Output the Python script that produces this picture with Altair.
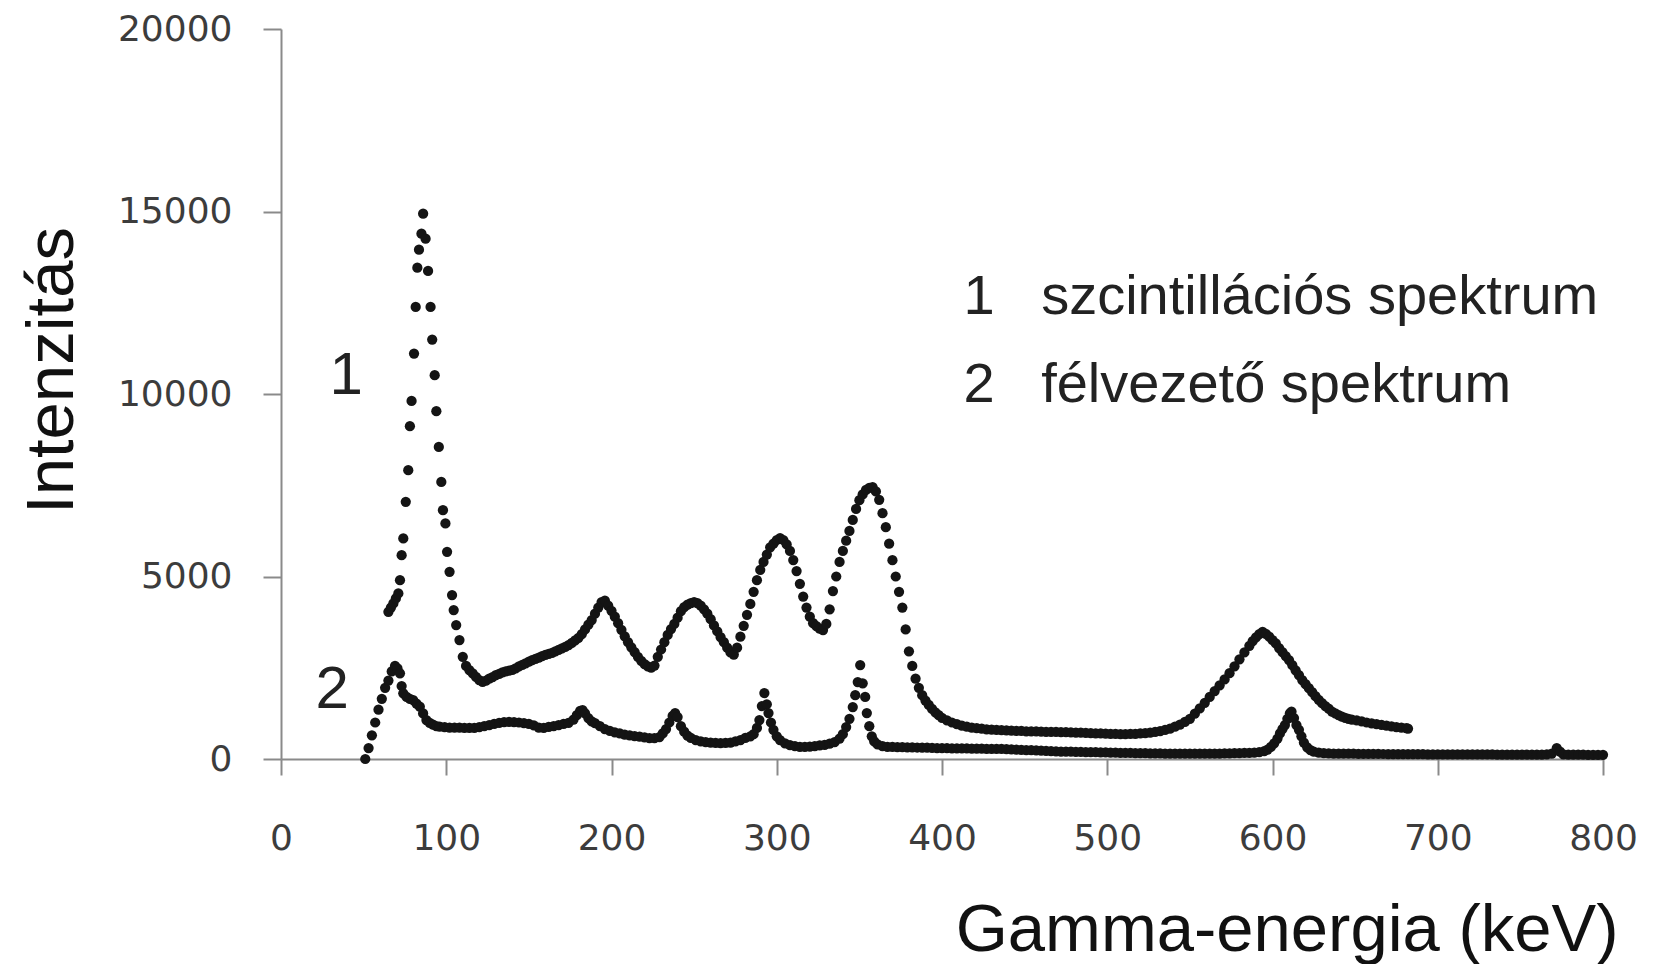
import altair as alt
import pandas as pd

# ---- data (energy keV, intensity) ----
SCINT = [
    (65, 4033), (66.5, 4150), (68, 4263), (69.5, 4400), (71, 4537), (72, 4900), (73, 5585),
    (74, 6042), (75.5, 7045), (77, 7912), (78, 9117), (79, 9810), (80.5, 11108), (81.5, 12384),
    (82.5, 13462), (83.5, 13955), (85, 14393), (86, 14940), (87.5, 14256), (89, 13370),
    (90.5, 12384), (91.5, 11491), (93, 10514), (94, 9528), (95.5, 8550), (97, 7592), (98, 6817),
    (99.5, 6453), (100.5, 5676), (102, 5128), (103.5, 4490), (104.5, 4080), (106, 3669),
    (108, 3258), (110, 2800), (112, 2550), (114, 2437), (116, 2346), (118, 2250), (120, 2163),
    (122, 2116), (124, 2150), (126, 2200), (128, 2240), (130, 2300), (132, 2330), (134, 2370),
    (136, 2400), (138, 2420), (140, 2440), (142, 2480), (144, 2540), (146, 2580), (148, 2620),
    (150, 2670), (152, 2710), (154, 2740), (156, 2780), (158, 2820), (160, 2850), (162, 2880),
    (164, 2910), (166, 2950), (168, 2990), (170, 3030), (172, 3075), (174, 3120), (176, 3180),
    (178, 3250), (180, 3320), (182, 3420), (184, 3550), (186, 3680), (188, 3806), (190, 3980),
    (192, 4150), (194, 4300), (196, 4340), (198, 4200), (200, 4060), (202, 3900), (204, 3720),
    (206, 3540), (208, 3360), (210, 3200), (212, 3060), (214, 2930), (216, 2800), (218, 2690),
    (220, 2600), (222, 2540), (224, 2500), (226, 2560), (228, 2800), (230, 3000), (232, 3200),
    (234, 3400), (236, 3560), (238, 3700), (240, 3870), (242, 4050), (244, 4160), (246, 4230),
    (248, 4270), (250, 4298), (252, 4270), (254, 4200), (256, 4100), (258, 3980), (260, 3830),
    (262, 3660), (264, 3500), (266, 3340), (268, 3200), (270, 3050), (272, 2920), (274, 2860),
    (276, 3050), (278, 3350), (280, 3650), (282, 3950), (284, 4250), (286, 4580), (288, 4900),
    (290, 5180), (292, 5400), (294, 5600), (296, 5800), (298, 5900), (300, 6000), (302, 6050),
    (304, 6000), (306, 5880), (308, 5700), (310, 5450), (312, 5150), (314, 4800), (316, 4450),
    (318, 4150), (320, 3900), (322, 3720), (324, 3640), (326, 3570), (328, 3532), (330, 3700),
    (332, 4100), (334, 4600), (336, 5000), (338, 5400), (340, 5700), (342, 5980), (344, 6250),
    (346, 6550), (348, 6850), (350, 7090), (352, 7250), (354, 7370), (356, 7430), (358, 7447),
    (360, 7330), (362, 7100), (364, 6735), (366, 6350), (368, 5900), (370, 5448), (372, 5000),
    (374, 4580), (376, 4150), (378, 3550), (380, 2950), (382, 2550), (384, 2200), (386, 1950),
    (388, 1750), (390, 1600), (392, 1480), (394, 1370), (396, 1280), (398, 1200), (400, 1130),
    (403, 1060), (406, 1000), (409, 955), (412, 915), (415, 885), (418, 860), (421, 845),
    (424, 830), (427, 815), (430, 805), (433, 800), (436, 790), (439, 785), (442, 775),
    (445, 770), (448, 770), (451, 760), (454, 755), (457, 755), (460, 750), (463, 745),
    (466, 745), (469, 740), (472, 735), (475, 735), (478, 730), (481, 725), (484, 720),
    (487, 715), (490, 712), (493, 705), (496, 700), (499, 695), (502, 690), (505, 688),
    (508, 682), (511, 680), (514, 685), (517, 690), (520, 700), (523, 712), (526, 725),
    (529, 740), (532, 765), (535, 795), (538, 835), (541, 885), (544, 945), (547, 1015),
    (550, 1100), (553, 1240), (556, 1390), (559, 1540), (562, 1700), (565, 1860), (568, 2020),
    (571, 2180), (574, 2350), (577, 2540), (580, 2730), (583, 2920), (586, 3100), (588, 3230),
    (590, 3330), (592, 3420), (594, 3486), (596, 3430), (598, 3350), (600, 3260), (602, 3167),
    (604, 3040), (606, 2930), (608, 2820), (610, 2710), (612, 2570), (614, 2430), (616, 2300),
    (618, 2163), (620, 2050), (622, 1940), (624, 1830), (626, 1720), (628, 1620), (630, 1530),
    (632, 1450), (634, 1380), (636, 1300), (638, 1250), (640, 1200), (642, 1160), (644, 1130),
    (646, 1100), (648, 1080), (651, 1060), (654, 1030), (657, 1000), (660, 975), (663, 955),
    (666, 935), (669, 915), (672, 895), (675, 875), (678, 860), (681, 845), (682, 835),
]

SEMI = [
    (51, 0), (53, 300), (55, 650), (57, 1000), (59, 1350), (61, 1650), (63, 1950), (65, 2150),
    (67, 2400), (69, 2550), (70.5, 2480), (72, 2346), (73, 2000), (74, 1799), (76, 1700),
    (78, 1650), (80, 1615), (82, 1520), (84, 1432), (86, 1250), (88, 1068), (90, 990), (92, 940),
    (94, 900), (96, 884), (99, 870), (102, 860), (105, 860), (108, 860), (111, 855), (114, 850),
    (117, 850), (120, 870), (123, 900), (126, 930), (129, 960), (132, 990), (135, 1010),
    (138, 1020), (141, 1010), (144, 1000), (147, 980), (150, 960), (153, 920), (156, 860),
    (159, 850), (162, 880), (165, 900), (168, 930), (171, 960), (174, 990), (177, 1080),
    (179, 1200), (181, 1320), (182.5, 1341), (184, 1250), (186, 1120), (188, 1030), (190, 980),
    (193, 900), (196, 820), (199, 770), (202, 730), (205, 700), (208, 670), (211, 650),
    (214, 630), (217, 610), (220, 590), (223, 575), (226, 570), (229, 600), (231, 700),
    (233, 820), (235, 1000), (237, 1180), (238.5, 1260), (240, 1150), (242, 900), (244, 750),
    (246, 640), (248, 580), (251, 520), (254, 480), (257, 460), (260, 450), (263, 440),
    (266, 435), (269, 440), (272, 450), (275, 480), (278, 520), (281, 580), (284, 620),
    (286, 680), (288, 850), (289.5, 1068), (291, 1450), (292.5, 1807), (294, 1500), (295, 1260),
    (296.5, 1000), (298, 800), (300, 620), (302, 520), (305, 430), (308, 380), (311, 350),
    (314, 330), (317, 330), (320, 340), (323, 350), (326, 370), (329, 390), (332, 420),
    (335, 460), (338, 560), (340, 680), (342, 876), (344, 1100), (346, 1424), (347.5, 1750),
    (349, 2108), (350.5, 2573), (352, 2072), (353.5, 1700), (354.5, 1260), (356, 900),
    (357.5, 620), (359, 480), (361, 400), (364, 350), (367, 335), (370, 330), (373, 325),
    (376, 322), (379, 320), (382, 318), (385, 315), (388, 312), (391, 310), (394, 305),
    (397, 300), (400, 298), (403, 295), (406, 293), (409, 290), (412, 290), (415, 288),
    (418, 285), (421, 285), (424, 282), (427, 280), (430, 280), (433, 278), (436, 275),
    (439, 270), (442, 265), (445, 258), (448, 250), (451, 245), (454, 240), (457, 233),
    (460, 228), (463, 222), (466, 215), (469, 210), (472, 205), (475, 200), (478, 200),
    (481, 195), (484, 192), (487, 190), (490, 188), (493, 185), (496, 182), (499, 180),
    (502, 176), (505, 172), (508, 170), (511, 168), (514, 165), (517, 162), (520, 160),
    (523, 158), (526, 155), (529, 155), (532, 152), (535, 150), (538, 150), (541, 150),
    (544, 148), (547, 148), (550, 148), (553, 148), (556, 150), (559, 150), (562, 150),
    (565, 150), (568, 150), (571, 152), (574, 155), (577, 158), (580, 160), (583, 165),
    (586, 170), (589, 178), (592, 190), (595, 215), (597, 260), (599, 330), (601, 430),
    (603, 560), (604.5, 700), (606, 820), (607.5, 931), (609, 1100), (610.5, 1250),
    (611.5, 1295), (613, 1120), (614.5, 931), (616, 800), (617.5, 620), (619, 450), (621, 320),
    (623, 240), (625, 200), (628, 175), (631, 160), (634, 155), (637, 150), (640, 150),
    (643, 148), (646, 145), (649, 145), (652, 143), (655, 142), (658, 140), (661, 140),
    (664, 138), (667, 137), (670, 136), (673, 135), (676, 135), (679, 134), (682, 133),
    (685, 132), (688, 132), (691, 131), (694, 130), (697, 130), (700, 130), (703, 129),
    (706, 128), (709, 128), (712, 127), (715, 127), (718, 126), (721, 126), (724, 125),
    (727, 125), (730, 124), (733, 124), (736, 123), (739, 123), (742, 122), (745, 122),
    (748, 121), (751, 121), (754, 120), (757, 120), (760, 120), (763, 120), (766, 125),
    (769, 150), (772, 300), (774, 200), (776, 130), (779, 118), (782, 118), (785, 117),
    (788, 117), (791, 116), (794, 116), (797, 115), (800, 115),
]

X_TICKS = [0, 100, 200, 300, 400, 500, 600, 700, 800]
Y_TICKS = [0, 5000, 10000, 15000, 20000]

LEGEND_NUMS = ["1", "2"]
LEGEND_TEXTS = ["szcintillációs spektrum", "félvezető spektrum"]
CURVE_LABELS = ["1", "2"]

X_TITLE = "Gamma-energia (keV)"
Y_TITLE = "Intenzitás"

# ---- build tables ----
rows = [{"E": e, "I": i, "s": "1"} for e, i in SCINT] + [{"E": e, "I": i, "s": "2"} for e, i in SEMI]
df = pd.DataFrame(rows)

legend_df = pd.DataFrame({
    "num": LEGEND_NUMS,
    "txt": LEGEND_TEXTS,
    "xn": [413, 413],
    "xt": [460, 460],
    "y": [12650, 10240],
})
curve_df = pd.DataFrame({
    "lab": CURVE_LABELS,
    "x": [39.5, 31],
    "y": [10490, 1890],
})

xscale = alt.Scale(domain=[0, 800], nice=False, zero=False)
yscale = alt.Scale(domain=[0, 20000], nice=False)

points = alt.Chart(df).mark_point(
    filled=True, shape="circle", size=105, color="#141414", opacity=1
).encode(
    x=alt.X("E:Q", scale=xscale, axis=alt.Axis(
        values=X_TICKS, title=X_TITLE, tickSize=16, labelPadding=46, format="d",
        labelFlush=False, labelOverlap=False,
        titleX=1337, titleY=191, titleAlign="right", titleBaseline="alphabetic",
    )),
    y=alt.Y("I:Q", scale=yscale, axis=alt.Axis(
        values=Y_TICKS, title=Y_TITLE, tickSize=18, labelPadding=31, format="d",
        labelOverlap=False, labelFlush=False,
        titleX=-209, titleY=341, titleAngle=270, titleAlign="center",
        titleBaseline="alphabetic",
    )),
    detail="s:N",
)

leg_num = alt.Chart(legend_df).mark_text(
    font="Liberation Sans", fontSize=56, align="left", baseline="middle", color="#222222"
).encode(x=alt.X("xn:Q", scale=xscale), y=alt.Y("y:Q", scale=yscale), text="num:N")

leg_txt = alt.Chart(legend_df).mark_text(
    font="Liberation Sans", fontSize=56, align="left", baseline="middle", color="#222222"
).encode(x=alt.X("xt:Q", scale=xscale), y=alt.Y("y:Q", scale=yscale), text="txt:N")

curve_txt = alt.Chart(curve_df).mark_text(
    font="Liberation Sans", fontSize=60, align="center", baseline="middle", color="#222222"
).encode(x=alt.X("x:Q", scale=xscale), y=alt.Y("y:Q", scale=yscale), text="lab:N")

chart = alt.layer(points, leg_num, leg_txt, curve_txt).properties(
    width=1322,
    height=730,
    autosize=alt.AutoSizeParams(type="none"),
    padding={"left": 273, "top": 21, "right": 42, "bottom": 205},
    background="white",
).configure_view(
    stroke=None
).configure_axis(
    grid=False,
    domainColor="#8a8a8a",
    domainWidth=2,
    tickColor="#8a8a8a",
    tickWidth=2,
    labelFont="DejaVu Sans",
    labelFontSize=36,
    labelColor="#3c3c3c",
    titleFont="Liberation Sans",
    titleFontSize=67,
    titleFontWeight="normal",
    titleColor="#111111",
)

chart.save("out.html", embed_options={"renderer": "svg", "actions": False})
